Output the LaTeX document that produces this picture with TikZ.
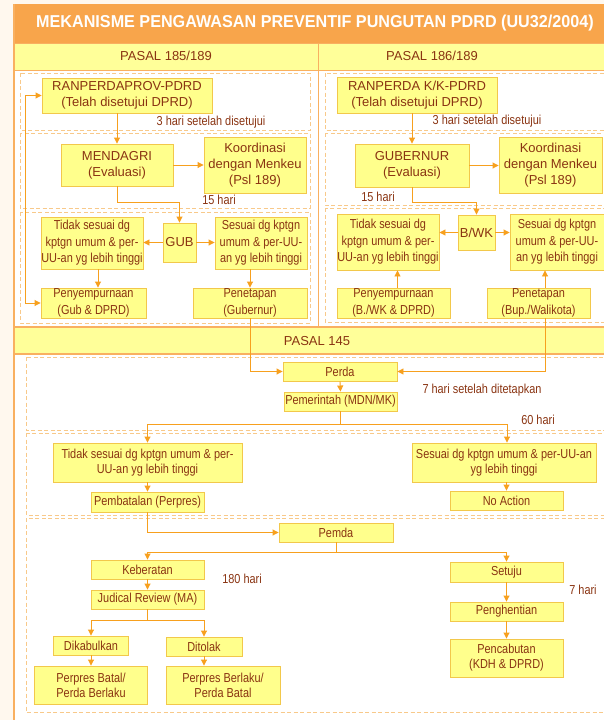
\documentclass[tikz,border=0pt]{standalone}
\usepackage{fontspec}
\setmainfont{Liberation Sans}
\newfontfamily\narrowfont[FakeStretch=0.84]{Liberation Sans}
\newfontfamily\titlefont[FakeStretch=0.94]{Liberation Sans}
\usetikzlibrary{arrows.meta}
\definecolor{cream}{HTML}{FFF8EE}
\definecolor{titleor}{HTML}{F8A54B}
\definecolor{bandyel}{HTML}{FFFF99}
\definecolor{boxfill}{HTML}{FFFF8C}
\definecolor{boxline}{HTML}{F2C84B}
\definecolor{txt}{HTML}{8A3412}
\definecolor{arrc}{HTML}{F7A01E}
\definecolor{dashc}{HTML}{F8C98A}
\definecolor{framec}{HTML}{F9B060}
\tikzset{
  bx/.style={draw=boxline, line width=0.9pt, fill=boxfill, inner sep=0pt, align=center, text=txt, font=\fontsize{13}{16}\selectfont},
  nbx/.style={bx, font=\narrowfont\fontsize{13}{15}\selectfont},
  nbxt/.style={bx, font=\narrowfont\fontsize{13}{16.5}\selectfont},
  sz/.style 2 args={minimum width=#1pt, minimum height=#2pt},
  arr/.style={draw=arrc, line width=0.9pt, -{Triangle[width=6pt,length=6pt]}},
  ln/.style={draw=arrc, line width=0.9pt},
  dbox/.style={draw=dashc, line width=1pt, dash pattern=on 4pt off 2.5pt},
  lab/.style={text=txt, font=\narrowfont\fontsize{13}{15}\selectfont, inner sep=0pt}
}
\begin{document}
\begin{tikzpicture}[x=1pt,y=-1pt]
\useasboundingbox (0,0) rectangle (604,720);
\begin{scope}
\clip (0,0) rectangle (604,720);
% background
\fill[cream] (0,0) rectangle (604,720);
\fill[white] (14,4) rectangle (604,720);
% title
\fill[titleor] (14,4) rectangle (604,43);
\node[text=white, font=\titlefont\bfseries\fontsize{17.2}{18}\selectfont] (title) at (315,23.5) {MEKANISME PENGAWASAN PREVENTIF PUNGUTAN PDRD (UU32/2004)};
% header
\fill[bandyel] (14,43) rectangle (604,70);
\draw[framec, line width=1pt] (14,43) -- (604,43);
\draw[framec, line width=1pt] (14,70) -- (604,70);
\draw[framec, line width=1pt] (318,43) -- (318,327);
\node[text=txt, font=\fontsize{13}{16}\selectfont] (h1) at (166,55.5) {PASAL 185/189};
\node[text=txt, font=\fontsize{13}{16}\selectfont] (h2) at (432,55.5) {PASAL 186/189};
% pasal 145 band
\fill[bandyel] (14,327) rectangle (604,354);
\draw[framec, line width=1.2pt] (14,327) -- (604,327);
\draw[framec, line width=1.2pt] (14,354) -- (604,354);
\node[text=txt, font=\fontsize{13}{16}\selectfont] (h3) at (317,341) {PASAL 145};
% left border
\draw[framec, line width=2.5pt] (14,4) -- (14,720);
% dashed boxes
\draw[dbox] (20,73) rectangle (310,130);
\draw[dbox] (20,133) rectangle (310,208);
\draw[dbox] (20,212) rectangle (310,323);
\draw[dbox] (325,73) rectangle (612,130);
\draw[dbox] (325,133) rectangle (612,205);
\draw[dbox] (325,208) rectangle (612,322);
\draw[dbox] (26,357) rectangle (612,430);
\draw[dbox] (26,433) rectangle (612,515);
\draw[dbox] (26,518) rectangle (612,712);
\end{scope}

% ---------- left section ----------
\node[bx, sz={170}{35}] (ranL) at (127,95.5) {RANPERDAPROV-PDRD\\(Telah disetujui DPRD)};
\node[bx, sz={112}{42}] (menL) at (117,165) {MENDAGRI\\(Evaluasi)};
\node[bx, sz={102}{56}] (korL) at (255,165) {Koordinasi\\dengan Menkeu\\(Psl 189)};
\node[bx, sz={33}{39}] (gub) at (179.5,242.5) {GUB};
\node[nbxt, sz={102}{52}] (tidL) at (92,243) {Tidak sesuai dg\\kptgn umum \& per-\\UU-an yg lebih tinggi};
\node[nbxt, sz={92}{52}] (sesL) at (261,243) {Sesuai dg kptgn\\umum \& per-UU-\\an yg lebih tinggi};
\node[nbxt, sz={105}{30}] (penyL) at (93.5,303) {Penyempurnaan\\(Gub \& DPRD)};
\node[nbxt, sz={114}{30}] (penL) at (250,303) {Penetapan\\(Gubernur)};
\node[lab] (l3L) at (211,122) {3 hari setelah disetujui};
\node[lab] (l15L) at (219,200) {15 hari};

\draw[arr] (ranL.south -| menL.north) -- (menL.north);
\draw[arr] (menL.east) -- (korL.west);
\draw[arr] (menL.south) -- ++(0,16) -| (gub.north);
\draw[arr] (gub.west) -- (gub.west -| tidL.east);
\draw[arr] (gub.east) -- (gub.east -| sesL.west);
\draw[arr] ([xshift=6pt]tidL.south) -- ([xshift=6pt]tidL.south |- penyL.north);
\draw[arr] (sesL.south -| penL.north) -- (penL.north);
\coordinate (loopL) at (25,0);
\draw[ln, {Triangle[width=6pt,length=6pt]}-{Triangle[width=6pt,length=6pt]}] (ranL.west) -- (ranL.west -| loopL) |- (penyL.west);

% ---------- right section ----------
\node[bx, sz={160}{36}] (ranR) at (417,95) {RANPERDA K/K-PDRD\\(Telah disetujui DPRD)};
\node[bx, sz={114}{43}] (gubR) at (412,165.5) {GUBERNUR\\(Evaluasi)};
\node[bx, sz={103}{56}] (korR) at (550.5,165) {Koordinasi\\dengan Menkeu\\(Psl 189)};
\node[bx, sz={37}{35}] (bwk) at (476.5,232.5) {B/WK};
\node[nbxt, sz={102}{56}] (tidR) at (388,242) {Tidak sesuai dg\\kptgn umum \& per-\\UU-an yg lebih tinggi};
\node[nbxt, sz={94}{56}] (sesR) at (557,242) {Sesuai dg kptgn\\umum \& per-UU-\\an yg lebih tinggi};
\node[nbxt, sz={113}{30}] (penyR) at (393.5,303) {Penyempurnaan\\(B./WK \& DPRD)};
\node[nbxt, sz={103}{30}] (penR) at (538.5,303) {Penetapan\\(Bup./Walikota)};
\node[lab] (l3R) at (487,121) {3 hari setelah disetujui};
\node[lab] (l15R) at (378,197) {15 hari};

\draw[arr] (ranR.south -| gubR.north) -- (gubR.north);
\draw[arr] (gubR.east) -- (gubR.east -| korR.west);
\draw[arr] (gubR.south) -- ++(0,14.5) -| (bwk.north);
\draw[arr] (bwk.west) -- (bwk.west -| tidR.east);
\draw[arr] (bwk.east) -- (bwk.east -| sesR.west);
\draw[arr] ([xshift=4pt]penyR.north) -- ([xshift=4pt]penyR.north |- tidR.south);
\draw[arr] ([xshift=6.5pt]penR.north) -- ([xshift=6.5pt]penR.north |- sesR.south);

% ---------- pasal 145 ----------
\node[nbx, sz={114}{19}] (perda) at (340,371.5) {Perda};
\node[nbx, sz={113}{19}] (pem) at (340.5,401.5) {Pemerintah (MDN/MK)};
\node[nbx, sz={189}{39}] (tid3) at (147.5,462.5) {Tidak sesuai dg kptgn umum \& per-\\UU-an yg lebih tinggi};
\node[nbx, sz={184}{39}] (ses3) at (504,462.5) {Sesuai dg kptgn umum \& per-UU-an\\yg lebih tinggi};
\node[nbx, sz={113}{20}] (pbt) at (147.5,502) {Pembatalan (Perpres)};
\node[nbx, sz={113}{19}] (noa) at (506.5,500.5) {No Action};
\node[lab] (l7d) at (482,390) {7 hari setelah ditetapkan};
\node[lab] (l60) at (538,420) {60 hari};

\draw[arr] (penL.south) |- (perda.west);
\draw[arr] ([xshift=6.5pt]penR.south) |- (perda.east);
\draw[arr] (perda.south) -- (pem.north);
\draw[ln] (pem.south) -- ++(0,12.5) coordinate (pj);
\draw[arr] (pj) -| (tid3.north);
\draw[arr] (pj) -| ([xshift=3pt]ses3.north);
\draw[arr] (tid3.south) -- (pbt.north);
\draw[arr] (ses3.south -| noa.north) -- (noa.north);

% ---------- bottom ----------
\node[nbx, sz={114}{19}] (pemda) at (336,532.5) {Pemda};
\node[nbx, sz={113}{19}] (keb) at (147.5,569.5) {Keberatan};
\node[nbx, sz={113}{19}] (jr) at (147.5,599.5) {Judical Review (MA)};
\node[nbx, sz={75}{19}] (dik) at (91,645.5) {Dikabulkan};
\node[nbx, sz={76}{19}] (dit) at (204,646.5) {Ditolak};
\node[nbx, sz={113}{38}] (pb1) at (91,685) {Perpres Batal/\\Perda Berlaku};
\node[nbx, sz={114}{38}] (pb2) at (223,685) {Perpres Berlaku/\\Perda Batal};
\node[nbx, sz={113}{20}] (setuju) at (506.5,572) {Setuju};
\node[nbx, sz={113}{19}] (peng) at (506.5,611.5) {Penghentian};
\node[nbx, sz={113}{38}] (pcb) at (506.5,658) {Pencabutan\\(KDH \& DPRD)};
\node[lab] (l180) at (242,579) {180 hari};
\node[lab] (l7) at (583,590) {7 hari};

\draw[arr] (pbt.south) |- (pemda.west);
\draw[ln] (pemda.south) -- ++(0,10) coordinate (qj);
\draw[arr] (qj) -| (keb.north);
\draw[arr] (qj) -| (setuju.north);
\draw[arr] (keb.south) -- (jr.north);
\draw[ln] (jr.south) -- ++(0,10.5) coordinate (rj);
\draw[arr] (rj) -| (dik.north);
\draw[arr] (rj) -| (dit.north);
\draw[arr] (dik.south) -- (dik.south |- pb1.north);
\draw[arr] (dit.south) -- (dit.south |- pb2.north);
\draw[arr] (setuju.south) -- (peng.north);
\draw[arr] (peng.south) -- (pcb.north);
\end{tikzpicture}
\end{document}
